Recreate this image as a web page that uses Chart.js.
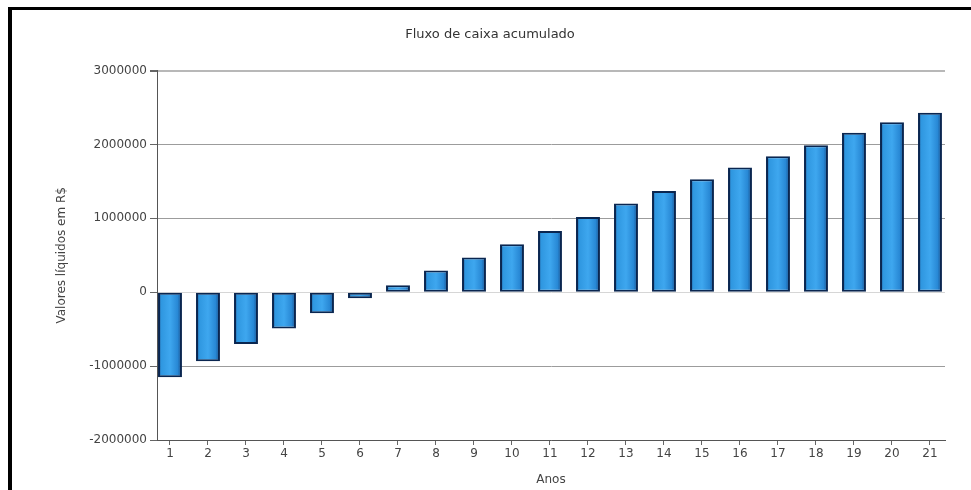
<!DOCTYPE html>
<html>
<head>
<meta charset="utf-8">
<script src="https://cdn.jsdelivr.net/npm/chart.js@4/dist/chart.umd.min.js"></script>
<style>
  html, body { margin: 0; padding: 0; background: #fff; }
  #wrap { position: relative; width: 971px; height: 490px; overflow: hidden; }
  #c { position: absolute; left: 0; top: 0; }
  .bl { position: absolute; left: 8px; top: 7px; width: 4px; height: 483px; background: #000; }
  .bt { position: absolute; left: 8px; top: 7px; width: 963px; height: 3px; background: #000; }
</style>
</head>
<body>
<div id="wrap">
  <canvas id="c" width="971" height="490"></canvas>
  <div class="bl"></div>
  <div class="bt"></div>
</div>
<script>
// ---- data ----
const chartTitle = 'Fluxo de caixa acumulado';
const xTitle = 'Anos';
const yTitle = 'Valores líquidos em R$';
const categories = [1, 2, 3, 4, 5, 6, 7, 8, 9, 10, 11, 12, 13, 14, 15, 16, 17, 18, 19, 20, 21];
const values = [-1150000, -935000, -700000, -490000, -285000, -80000, 95000, 295000, 470000, 650000,
                830000, 1020000, 1200000, 1370000, 1530000, 1690000, 1840000, 1990000, 2160000, 2300000, 2430000];
const yTickValues = [-2000000, -1000000, 0, 1000000, 2000000, 3000000];

const FONT = "'DejaVu Sans', Verdana, sans-serif";

function barGradient(ctx) {
  const chart = ctx.chart;
  const xs = chart.scales && chart.scales.x;
  if (!chart.chartArea || !xs || ctx.dataIndex === undefined) return '#2f95e0';
  const cx = xs.getPixelForValue(categories[ctx.dataIndex]);
  const step = xs.getPixelForValue(2) - xs.getPixelForValue(1);
  const half = step * 0.63 / 2;
  const g = chart.ctx.createLinearGradient(cx - half, 0, cx + half, 0);
  g.addColorStop(0, '#0f4683');
  g.addColorStop(0.14, '#2f97e0');
  g.addColorStop(0.5, '#3ea7ef');
  g.addColorStop(0.82, '#2888d5');
  g.addColorStop(1, '#0f4480');
  return g;
}

new Chart(document.getElementById('c'), {
  type: 'bar',
  data: {
    datasets: [{
      data: categories.map((c, i) => ({ x: c, y: values[i] })),
      backgroundColor: barGradient,
      borderColor: '#0a2650',
      borderWidth: 2,
      borderSkipped: false,
      barPercentage: 0.63,
      categoryPercentage: 1
    }]
  },
  options: {
    responsive: false,
    animation: false,
    devicePixelRatio: 1,
    layout: { padding: { left: 12, right: 3, top: 0, bottom: 0 } },
    plugins: {
      legend: { display: false },
      tooltip: { enabled: false },
      title: {
        display: true,
        text: chartTitle,
        color: '#333',
        font: { family: FONT, size: 13, weight: 'normal' },
        padding: { top: 27, bottom: 28 }
      }
    },
    scales: {
      x: {
        type: 'linear',
        offset: false,
        min: 0.658,
        max: 21.395,
        afterBuildTicks: s => { s.ticks = categories.map(v => ({ value: v })); },
        afterFit: s => { s.height = 50; },
        ticks: {
          color: '#444',
          font: { family: FONT, size: 12 },
          padding: 2,
          maxRotation: 0,
          autoSkip: false,
          callback: v => String(v)
        },
        grid: { offset: false, drawOnChartArea: false, drawTicks: true, tickLength: 5, color: '#666' },
        border: { display: true, color: '#555', width: 1 },
        title: {
          display: true,
          text: xTitle,
          color: '#444',
          font: { family: FONT, size: 12 },
          padding: { top: 0, bottom: 3 }
        }
      },
      y: {
        min: -2000000,
        max: 3000000,
        afterBuildTicks: s => { s.ticks = yTickValues.map(v => ({ value: v })); },
        afterFit: s => { s.width = 145; },
        ticks: {
          color: '#444',
          font: { family: FONT, size: 12 },
          padding: 3,
          callback: v => String(v)
        },
        grid: {
          color: c => (c.tick && c.tick.value === 0) ? '#d6d6d6' : (c.tick && c.tick.value === 3000000 ? '#b8b8b8' : '#9c9c9c'),
          lineWidth: c => (c.tick && c.tick.value === 3000000) ? 2 : 1,
          tickColor: '#666',
          tickLength: 7
        },
        border: { display: true, color: '#555', width: 1 },
        title: {
          display: true,
          text: yTitle,
          color: '#444',
          font: { family: FONT, size: 12 },
          padding: { top: 43, bottom: 0 }
        }
      },
      y2: {
        position: 'right',
        display: true,
        afterFit: s => { s.width = 23; },
        grid: { display: false, drawTicks: false },
        border: { display: false },
        ticks: { display: false }
      }
    }
  }
});
</script>
</body>
</html>
